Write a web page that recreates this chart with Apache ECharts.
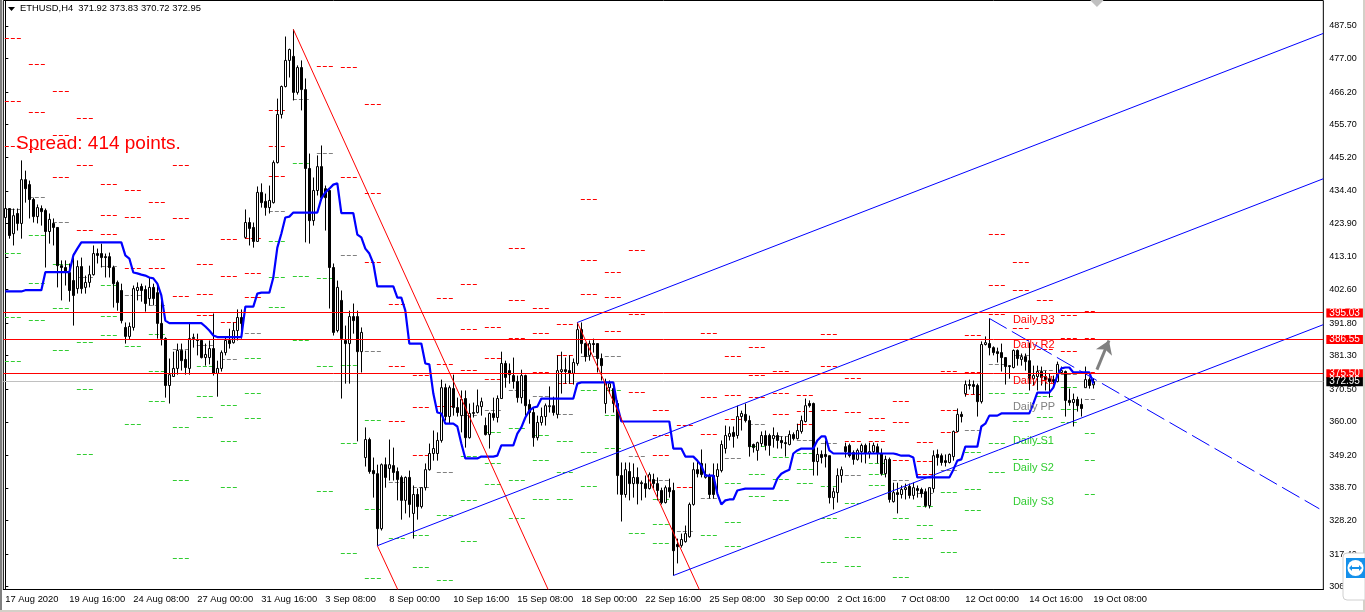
<!DOCTYPE html>
<html>
<head>
<meta charset="utf-8">
<style>html,body{margin:0;padding:0;background:#fff}#chart{width:1365px;height:612px}</style>
<script src="https://cdn.jsdelivr.net/npm/echarts@6/dist/echarts.min.js"></script>
</head>
<body>
<div id="chart"></div>
<script>
// H4 candles
var opens = [425.8,428.7,420.6,427.1,423.9,438.0,436.4,431.6,426.1,428.7,
428.1,421.3,423.9,422.6,410.3,409.7,408.1,405.5,402.9,410.0,
403.3,404.9,407.4,414.2,414.2,413.2,413.2,409.7,404.9,402.3,
390.4,387.5,390.4,402.3,403.6,402.6,399.7,403.3,401.6,391.7,
386.8,371.7,374.6,377.2,383.0,380.1,377.2,386.8,386.5,386.2,
380.7,380.7,383.6,375.6,377.2,382.3,386.2,385.5,389.4,393.6,
419.4,424.2,422.6,418.1,433.9,431.0,429.0,430.6,443.5,459.0,
468.0,476.4,477.7,466.1,474.1,467.0,441.6,424.8,434.5,442.2,
435.1,434.5,409.7,389.4,399.1,386.2,385.2,393.9,393.9,382.6,
348.5,354.3,344.3,343.3,325.6,346.2,345.0,345.9,344.0,342.1,
334.7,342.1,330.5,336.6,332.7,338.8,344.6,349.8,349.8,354.0,
371.0,361.7,370.7,364.6,362.0,367.5,354.9,362.7,363.0,364.9,
358.8,355.9,362.7,361.4,367.5,378.8,376.5,374.9,373.0,367.8,
374.9,365.6,363.0,354.9,359.8,361.7,364.9,365.2,362.4,376.2,
376.8,376.5,375.6,378.8,389.7,385.2,381.4,385.2,385.2,380.4,
365.9,371.0,370.7,365.9,342.7,336.6,344.0,340.1,342.1,340.4,
340.1,338.5,341.4,340.1,337.9,334.0,338.8,337.9,320.5,320.2,
321.4,323.0,333.4,344.6,346.6,342.1,342.7,342.7,342.4,344.3,
351.4,355.3,356.6,355.6,361.7,362.4,360.4,352.7,350.8,353.0,
355.6,355.6,354.6,355.6,354.0,353.3,352.7,355.9,354.6,356.9,
360.1,365.9,365.9,347.2,349.5,349.5,349.1,335.6,337.2,342.7,
352.0,352.4,350.1,347.9,350.4,352.4,349.8,350.4,352.0,349.8,
343.3,347.9,334.3,337.2,336.6,338.2,339.2,336.3,338.5,338.2,
337.5,333.0,338.5,349.5,349.1,347.5,346.9,348.8,356.9,362.4,
369.1,372.0,372.0,371.7,366.5,384.9,385.2,383.9,382.6,382.3,
380.7,378.1,377.5,383.0,380.1,381.0,379.7,373.9,374.6,376.2,
374.6,373.9,373.6,373.0,375.9,376.2,366.9,366.2,367.2,365.6,
371.0,373.6,371.92];
var closes = [428.7,420.0,426.4,423.9,438.0,435.1,431.6,426.1,429.0,427.7,
421.3,425.2,422.6,410.3,409.7,408.1,402.3,400.7,410.0,402.9,
404.9,407.4,414.2,413.6,412.9,412.9,409.7,404.5,398.4,392.6,
387.5,390.7,402.9,403.3,402.3,398.1,403.3,399.7,391.7,386.8,
371.7,375.2,377.2,383.0,379.7,377.5,386.8,387.2,386.2,380.7,
381.7,383.6,375.6,377.2,382.3,386.2,385.2,389.4,393.6,391.7,
424.2,422.3,418.1,433.9,430.6,429.0,431.3,443.5,459.0,468.0,
476.4,479.9,466.1,474.1,467.0,441.6,424.8,434.5,442.2,432.2,
432.2,409.7,388.8,403.3,386.8,385.2,393.9,392.6,382.6,388.8,
354.3,344.0,343.3,325.6,346.2,342.1,346.2,343.7,341.4,334.7,
342.1,333.4,336.6,332.7,338.8,344.6,349.8,351.4,354.0,371.0,
361.7,371.0,364.6,363.0,367.2,354.9,362.7,363.0,365.2,366.5,
355.9,362.7,361.4,367.5,378.8,374.3,375.2,373.0,367.8,374.9,
365.2,363.0,354.9,359.8,361.7,365.2,365.2,363.0,376.5,376.8,
376.2,375.6,379.1,389.7,385.2,381.0,385.2,384.9,380.4,378.1,
372.7,372.3,365.9,342.7,336.6,344.6,340.1,342.1,340.1,340.1,
338.5,343.0,340.1,337.9,334.0,338.8,337.5,318.5,319.8,322.1,
324.0,333.4,344.6,343.3,343.0,343.0,336.6,336.6,344.6,352.7,
355.6,356.2,355.3,361.7,362.7,360.4,352.0,351.7,353.3,355.6,
352.4,352.4,355.6,354.0,353.3,353.0,355.9,354.6,357.2,360.4,
365.2,365.2,347.2,349.5,348.5,348.8,335.6,337.5,342.7,344.6,
350.4,349.1,347.9,350.8,352.4,349.8,350.4,352.4,349.8,343.3,
347.9,335.0,337.2,336.6,338.2,338.8,336.3,338.8,337.9,336.9,
333.0,338.8,349.1,348.5,346.9,346.9,349.5,356.9,362.4,361.7,
372.0,371.7,371.4,366.5,384.9,385.5,383.9,382.3,382.0,380.7,
377.8,377.8,383.0,380.4,381.0,379.4,373.9,374.9,376.2,374.3,
373.6,373.0,373.0,378.5,376.5,366.9,366.2,367.2,365.2,364.3,
373.6,371.7,372.95];
var highs = [433.5,428.7,428.7,428.7,444.2,440.9,437.7,432.2,430.0,429.7,
428.7,427.1,425.5,422.6,412.0,412.0,411.0,414.2,412.0,412.9,
407.1,410.3,416.8,415.8,417.4,414.2,414.5,410.3,405.5,404.5,
392.0,392.0,403.9,404.9,404.5,403.9,406.5,404.5,403.9,399.1,
387.2,380.4,382.6,385.2,385.2,383.0,391.7,388.4,388.4,386.5,
385.2,386.2,394.9,379.7,383.0,387.2,390.0,392.0,396.2,396.2,
428.4,425.8,424.2,435.8,436.8,433.5,436.1,444.2,464.1,468.3,
484.1,480.2,486.4,474.8,476.4,470.6,446.4,438.7,445.8,449.0,
436.1,435.1,411.0,405.5,402.3,391.0,395.8,398.1,395.8,390.4,
358.2,354.9,348.5,346.2,346.6,348.5,354.3,351.7,345.3,342.7,
342.4,344.3,339.5,338.5,338.8,346.6,353.0,357.2,356.6,373.6,
372.3,371.7,375.2,367.8,370.1,370.1,365.9,366.2,370.4,367.8,
361.4,363.0,367.8,368.5,382.6,379.7,378.8,380.7,374.9,376.8,
375.2,367.2,364.6,362.0,364.6,365.9,371.4,368.1,381.4,382.6,
380.7,381.4,380.4,392.0,392.0,385.5,386.2,386.8,385.2,382.0,
373.9,373.3,372.7,366.9,346.9,346.9,346.9,346.6,345.3,341.1,
342.7,343.7,343.3,342.1,338.8,339.5,341.7,340.4,322.4,324.0,
326.6,334.0,346.9,347.5,351.1,346.6,343.3,346.6,346.6,354.0,
358.8,358.5,358.5,365.2,363.6,365.9,362.0,353.0,353.6,356.9,
357.2,356.2,358.2,356.6,355.3,355.3,357.2,356.6,359.4,362.0,
367.5,366.9,366.2,351.7,350.8,354.0,349.1,338.8,345.0,345.6,
353.3,353.0,350.8,351.4,353.0,353.0,353.3,353.3,353.0,351.4,
349.1,348.5,340.4,340.4,339.5,340.1,340.1,340.4,339.5,338.8,
338.5,338.8,350.8,351.1,349.8,349.5,349.8,357.2,364.3,363.3,
373.3,373.6,373.3,372.3,385.9,387.5,393.3,384.3,383.9,385.2,
380.7,378.1,383.3,383.3,382.0,382.0,385.5,378.1,378.1,377.8,
376.5,375.6,374.9,379.4,377.8,376.5,370.7,369.1,368.1,367.5,
377.8,374.3,373.83];
var lows = [422.6,419.0,416.8,421.6,419.0,430.6,425.5,424.2,423.9,423.2,
409.7,417.4,416.8,403.3,399.1,403.9,398.7,391.0,401.3,401.3,
401.3,403.3,407.1,411.0,409.7,406.5,406.5,396.8,395.8,391.7,
385.2,386.5,389.4,399.1,398.7,395.5,397.5,397.5,386.8,384.6,
367.8,365.9,374.6,375.2,376.5,375.2,375.2,383.9,381.4,380.4,
378.1,378.5,374.9,368.1,376.2,381.4,383.6,385.2,386.2,386.8,
419.0,416.8,416.1,418.1,429.0,426.4,427.1,430.3,443.2,457.7,
467.7,470.9,463.5,465.4,460.3,417.8,417.4,423.2,432.9,431.3,
421.6,396.5,387.8,388.8,367.5,372.3,372.3,388.4,353.7,375.9,
345.6,343.3,335.6,320.1,325.0,338.8,341.1,341.1,334.7,328.5,
330.5,329.2,322.4,328.5,332.1,337.9,344.3,347.5,347.5,353.3,
360.4,359.4,362.0,361.7,356.6,351.7,354.6,361.4,362.7,362.0,
355.6,351.4,360.4,359.8,367.5,371.0,372.3,370.7,366.2,365.9,
362.0,359.4,352.0,354.0,358.8,358.8,363.0,362.0,361.1,369.1,
372.3,372.3,372.0,378.1,382.0,379.4,379.7,382.3,375.9,373.3,
362.7,369.1,363.0,336.6,327.9,335.6,334.7,335.6,333.4,334.7,
335.6,338.2,338.5,334.7,333.4,333.7,335.6,310.5,314.4,319.5,
321.1,322.7,333.0,342.1,342.1,341.7,335.3,335.3,336.3,343.7,
349.8,354.0,351.7,354.6,357.2,359.8,348.8,350.1,347.5,352.0,
350.8,349.1,351.7,351.4,351.4,348.8,352.4,354.0,354.3,356.2,
359.8,364.6,342.7,342.7,346.6,345.3,333.7,331.8,334.0,340.4,
348.5,348.5,346.2,347.5,346.9,346.6,348.2,349.8,346.6,342.7,
342.1,334.0,334.0,330.5,335.3,335.0,335.3,335.0,335.6,335.6,
332.4,332.1,337.2,345.9,345.9,345.6,346.6,347.5,356.6,359.8,
368.1,370.4,368.8,361.7,365.9,384.6,381.4,381.4,379.1,376.2,
372.0,373.9,377.2,378.1,378.1,376.5,370.1,371.7,370.1,371.7,
370.1,367.8,371.0,372.7,375.5,361.7,365.2,358.5,363.3,361.7,
371.0,370.7,370.72];

// thick blue indicator line, one value per bar
var blueLine = [402.0,402.0,402.0,402.0,402.0,402.4,402.4,402.4,402.4,402.4,
408.2,408.2,408.2,408.2,408.2,408.2,408.2,413.6,415.8,417.8,
417.8,417.8,417.8,417.8,417.8,417.8,417.8,417.8,417.8,417.8,
413.6,412.6,408.1,407.8,407.4,407.1,406.5,406.2,404.5,400.7,
392.6,391.8,391.8,391.8,391.8,391.8,391.8,391.8,391.8,391.8,
390.7,389.4,387.8,387.3,387.3,387.3,387.3,387.3,387.3,387.3,
397.1,397.1,397.1,401.3,401.6,401.6,401.6,406.5,416.1,420.6,
425.8,426.1,427.4,427.4,427.4,427.4,427.4,427.4,427.4,431.9,
433.9,435.1,436.4,436.8,427.2,427.2,427.2,427.2,420.3,419.4,
415.8,414.2,411.0,403.6,403.6,403.6,403.6,403.6,400.0,400.0,
395.8,385.2,385.2,385.2,385.2,378.8,378.5,369.1,363.0,362.7,
359.4,359.4,359.4,358.5,353.0,348.2,348.2,348.2,348.2,348.8,
348.8,348.8,348.8,349.1,352.4,352.4,352.4,352.4,356.2,358.2,
361.4,363.6,364.6,364.9,367.5,367.5,367.5,367.5,367.5,367.5,
367.5,367.5,367.5,372.3,372.7,372.7,372.7,372.7,372.7,372.7,
372.7,372.7,372.7,365.2,360.1,360.1,360.1,360.1,360.1,360.1,
360.1,360.1,360.1,360.1,360.1,360.1,360.1,351.4,351.4,351.4,
348.8,348.8,348.8,347.5,345.9,342.7,342.7,342.7,336.9,333.4,
334.7,335.0,335.0,337.9,338.2,338.5,338.5,338.5,338.5,338.5,
338.5,338.5,338.5,341.7,343.3,344.0,344.6,349.8,350.8,351.4,
351.4,351.4,351.4,354.0,355.3,355.3,350.8,349.8,349.8,349.8,
349.8,349.8,349.8,349.8,349.8,349.8,349.8,349.8,349.8,349.8,
349.8,349.8,349.8,349.5,349.1,349.1,349.1,348.5,342.1,342.1,
342.1,342.1,342.1,342.1,342.1,342.1,342.1,344.6,347.5,347.9,
352.0,352.0,352.0,352.0,358.5,359.4,362.0,362.0,362.0,362.7,
362.7,362.7,362.7,362.7,362.7,362.7,362.7,365.9,369.4,369.4,
369.4,369.4,371.0,374.9,377.2,377.5,377.5,375.9,375.9,375.9,
375.9,375.9,372.3];

// daily pivot levels, one value per day, null where the level is off the chart
var dailyR3 = [483.5,475.1,466.4,457.7,436.4,434.5,430.6,442.6,410.7,418.7,419.0,460.3,null,null,null,462.2,397.8,374.9,399.7,404.2,390.4,415.8,396.5,391.3,431.6,408.1,415.2,363.6,373.0,388.4,381.0,383.9,376.2,368.5,388.1,373.9,361.1,366.5,353.3,376.2,387.8,420.3,411.3,399.1,394.2,395.5];
var dailyR2 = [463.2,459.6,452.2,442.6,426.4,425.8,418.7,425.5,401.0,406.8,407.8,448.7,null,null,474.1,433.5,377.8,364.6,378.5,389.7,380.4,399.1,388.4,381.4,412.0,400.0,394.6,355.6,358.8,367.8,368.5,374.9,369.1,363.3,377.8,363.0,357.2,359.8,347.2,363.6,375.9,403.9,402.3,391.7,386.8,386.8];
var dailyR1 = [448.7,447.7,438.7,421.6,420.3,409.4,409.4,400.4,394.2,392.0,400.0,439.0,null,474.4,438.7,411.3,360.1,349.1,364.9,376.5,373.6,386.8,375.9,372.3,401.0,389.1,369.4,349.1,338.8,355.9,360.7,367.8,362.4,359.1,363.6,353.7,353.7,347.5,343.0,356.6,368.8,394.6,390.0,383.3,382.6,375.9];
var dailyPP = [428.4,432.2,424.2,406.5,410.0,400.7,397.5,383.3,384.6,380.1,388.4,427.7,463.8,446.4,413.6,382.6,340.4,338.8,343.7,362.0,363.6,370.1,368.1,362.4,381.0,381.0,348.8,341.1,324.7,335.3,348.2,359.1,355.3,354.0,353.0,342.7,349.8,341.1,336.9,344.3,357.2,378.5,381.4,376.5,375.2,367.2];
var dailyS1 = [414.2,420.0,410.7,385.5,403.9,384.3,388.1,358.2,377.8,365.2,380.4,418.1,443.2,406.2,378.1,360.4,322.4,323.4,329.8,348.8,356.6,357.8,355.6,353.7,370.1,370.1,324.0,335.0,null,323.4,340.1,352.0,348.5,349.8,339.2,333.7,346.6,328.9,332.7,337.2,350.1,369.1,369.1,368.1,371.0,356.2];
var dailyS2 = [393.6,404.5,396.5,370.4,393.9,375.6,376.2,341.1,368.1,353.7,369.1,406.5,406.8,377.8,353.0,331.8,null,313.1,308.9,334.7,346.6,341.1,347.5,343.7,350.1,362.0,null,326.9,null,null,327.6,343.0,341.4,344.6,328.9,322.7,343.0,322.1,326.6,325.0,338.2,353.0,360.1,361.4,364.0,347.5];
var dailyS3 = [379.4,392.6,383.0,349.5,387.8,359.1,366.5,316.0,361.4,338.8,361.1,396.8,386.2,337.6,317.6,309.5,null,null,null,321.4,339.8,328.9,335.0,335.0,339.2,351.4,null,320.8,null,null,319.8,335.9,334.7,340.1,314.7,313.4,339.5,309.9,322.4,317.9,331.4,343.7,347.9,353.0,359.8,336.6];

// axis labels
var timeLabels = ['17 Aug 2020','19 Aug 16:00','24 Aug 08:00','27 Aug 00:00','31 Aug 16:00','3 Sep 08:00','8 Sep 00:00','10 Sep 16:00','15 Sep 08:00','18 Sep 00:00','22 Sep 16:00','25 Sep 08:00','30 Sep 00:00','2 Oct 16:00','7 Oct 08:00','12 Oct 00:00','14 Oct 16:00','19 Oct 08:00'];
var priceTicks = [487.5,477,466.2,455.7,445.2,434.4,423.9,413.1,402.6,391.8,381.3,370.5,360,349.2,338.7,328.2,317.4,306.9];

// drawn objects: [bar, price] end points
var redChannel = [[[72,486.4],[135.7,306]],[[93,320.1],[98.1,306]],[[143,392],[173.5,306]]];
var blueChannel = [[[143,392],[329.5,485.1]],[[93,320.1],[329.5,438.3]],[[167,310.5],[329.5,391.3]]];
var dashedLine = [[246,393.3],[328.5,332]];
var arrowLine = [[272.9,376.8],[275.9,386.2]];
var dailyNames = ['Daily R3','Daily R2','Daily R1','Daily PP','Daily S1','Daily S2','Daily S3'];
var dailyNamePrices = [392.9,384.6,373.3,364.9,353.7,345.3,334.3];
var dailyNameColors = ['#ff0000','#ff0000','#ff0000','#808080','#32cd32','#32cd32','#32cd32'];
var hLines = [395.03,386.55,375.5];
var lastPrice = 372.95;

var barsPerDay = 6;
var totalBars = 330;
var cats = [];
for (var i = 0; i < totalBars; i++) cats.push(String(i));

var candles = [];
for (var j = 0; j < opens.length; j++) {
    candles.push([opens[j], closes[j], lows[j], highs[j]]);
}

// terminal lines sit on whole pixels
function crispY(y) {
    return Math.round(y - 0.6) + 0.5;
}

// one short dashed mark at the start of each day
function levelSeries(levels, color) {
    var pts = [];
    levels.forEach(function (v, day) {
        if (v !== null) pts.push([day * barsPerDay, v]);
    });
    return {
        type: 'custom',
        data: pts,
        silent: true,
        z: 2,
        renderItem: function (params, api) {
            var p = api.coord([api.value(0), api.value(1)]);
            var y = crispY(p[1]);
            var len = api.value(0) >= 270 ? 10 : 16;
            return {
                type: 'line',
                shape: { x1: p[0] - 0.5, y1: y, x2: p[0] - 0.5 + len, y2: y },
                style: { stroke: color, lineWidth: 1, lineDash: [4, 2], fill: null }
            };
        }
    };
}

// full width horizontal level
function hLineSeries(values, color, z) {
    return {
        type: 'custom',
        xAxisIndex: 1,
        data: values.map(function (v) { return [-0.5, v]; }),
        silent: true,
        z: z,
        clip: true,
        renderItem: function (params, api) {
            var a = api.coord([-0.5, api.value(1)]);
            var b = api.coord([329.5, api.value(1)]);
            var y = crispY(a[1]);
            return {
                type: 'line',
                shape: { x1: a[0], y1: y, x2: b[0], y2: y },
                style: { stroke: color, lineWidth: 1, fill: null }
            };
        }
    };
}

function trendSeries(points, color, dash) {
    return {
        type: 'line',
        xAxisIndex: 1,
        data: points,
        showSymbol: false,
        silent: true,
        clip: true,
        z: 5,
        lineStyle: { color: color, width: 1, type: dash || 'solid' }
    };
}

// price tag on the right edge, the label hangs off an invisible point
function tagPoint(v, bg) {
    return {
        value: [329.5, v],
        label: {
            show: true, position: 'right', distance: 3, color: '#fff', backgroundColor: bg,
            padding: [0, 3], lineHeight: 9, fontFamily: 'Liberation Sans', fontSize: 10,
            formatter: v.toFixed(2)
        }
    };
}

var seriesList = [
    levelSeries(dailyR3, '#ff0000'),
    levelSeries(dailyR2, '#ff0000'),
    levelSeries(dailyR1, '#ff0000'),
    levelSeries(dailyPP, '#808080'),
    levelSeries(dailyS1, '#32cd32'),
    levelSeries(dailyS2, '#32cd32'),
    levelSeries(dailyS3, '#32cd32'),
    hLineSeries([lastPrice], '#c0c0c0', 2),
    {
        type: 'candlestick',
        data: candles,
        barWidth: 3,
        silent: true,
        z: 3,
        itemStyle: { color: '#fff', color0: '#000', borderColor: '#000', borderColor0: '#000', borderWidth: 1 }
    },
    {
        type: 'line',
        data: blueLine,
        showSymbol: false,
        silent: true,
        z: 4,
        lineStyle: { color: '#0000ff', width: 2.2 }
    },
    {
        type: 'scatter',
        xAxisIndex: 1,
        symbolSize: 0,
        silent: true,
        z: 4,
        itemStyle: { opacity: 1 },
        data: dailyNames.map(function (n, k) {
            return {
                value: [251.9, dailyNamePrices[k]],
                label: { show: true, position: 'right', distance: 0, formatter: n, color: dailyNameColors[k], fontFamily: 'Liberation Sans', fontSize: 11 }
            };
        })
    },
    hLineSeries(hLines, '#ff0000', 6)
];
redChannel.forEach(function (p) { seriesList.push(trendSeries(p, '#ff0000')); });
blueChannel.forEach(function (p) { seriesList.push(trendSeries(p, '#0000ff')); });
seriesList.push(trendSeries(dashedLine, '#0000ff', [20, 6]));

seriesList.push({
    type: 'scatter',
    xAxisIndex: 1,
    symbolSize: 0,
    silent: true,
    clip: false,
    z: 7,
    itemStyle: { opacity: 1 },
    data: [tagPoint(hLines[0], '#ff0000'), tagPoint(hLines[1], '#ff0000'), tagPoint(hLines[2], '#ff0000'), tagPoint(lastPrice, '#000')]
});

// grey arrow and the small marker on the top edge
seriesList.push({
    type: 'line',
    xAxisIndex: 1,
    data: [],
    silent: true,
    z: 6,
    markLine: {
        silent: true,
        animation: false,
        symbolSize: 13,
        label: { show: false },
        data: [[
            { coord: arrowLine[0], symbol: 'none', lineStyle: { color: '#808080', width: 3, type: 'solid' } },
            { coord: arrowLine[1], symbol: 'arrow', lineStyle: { color: '#808080', width: 3, type: 'solid' } }
        ]]
    }
});
seriesList.push({
    type: 'scatter',
    xAxisIndex: 1,
    silent: true,
    symbol: 'diamond',
    symbolSize: 13,
    itemStyle: { color: '#c0c0c0', opacity: 1 },
    data: [[272.9, 495.7]]
});

var chart = echarts.init(document.getElementById('chart'));
chart.setOption({
    animation: false,
    backgroundColor: '#fff',
    textStyle: { fontFamily: 'Liberation Sans' },
    grid: { left: 3.33, top: 0.5, width: 1320, height: 589, show: true, borderColor: '#000', borderWidth: 1, containLabel: false },
    xAxis: [
        {
            type: 'category',
            data: cats,
            boundaryGap: true,
            axisLine: { lineStyle: { color: '#000', width: 1 } },
            axisTick: {
                alignWithLabel: true,
                length: 3,
                lineStyle: { color: '#000' },
                interval: function (idx) { return idx % 16 === 0 && idx <= 272; }
            },
            axisLabel: {
                color: '#000',
                fontSize: 9.4,
                align: 'left',
                margin: 5,
                interval: function (idx) { return idx % 16 === 0 && idx <= 272; },
                formatter: function (v, idx) { return timeLabels[idx / 16]; }
            },
            splitLine: { show: false }
        },
        { type: 'value', min: -0.5, max: 329.5, show: false, splitLine: { show: false } }
    ],
    yAxis: {
        type: 'value',
        position: 'right',
        min: 306,
        max: 495.7,
        splitLine: { show: false },
        axisLine: { show: true, lineStyle: { color: '#000', width: 1 } },
        axisTick: { show: true, length: 3, lineStyle: { color: '#000' }, customValues: priceTicks },
        axisLabel: {
            color: '#000',
            fontSize: 9,
            margin: 6,
            customValues: priceTicks,
            formatter: function (v) { return v.toFixed(2); }
        }
    },
    series: seriesList,
    graphic: [
        { type: 'rect', shape: { x: 0, y: 0, width: 2, height: 612 }, style: { fill: '#808080' } },
        { type: 'rect', shape: { x: 0, y: 610, width: 1365, height: 2 }, style: { fill: '#d4d0c8' } },
        { type: 'rect', shape: { x: 1363, y: 0, width: 2, height: 612 }, style: { fill: '#d4d0c8' } },
        { type: 'polygon', shape: { points: [[8, 7], [15, 7], [11.5, 11]] }, style: { fill: '#000' } },
        { type: 'text', x: 20, y: 4, style: { text: 'ETHUSD,H4  371.92 373.83 370.72 372.95', fill: '#000', font: '9.4px "Liberation Sans"' } },
        { type: 'text', x: 16, y: 134, style: { text: 'Spread: 414 points.', fill: '#ff0000', font: '19px "Liberation Sans"' } },
        // remote-desktop badge in the corner
        { type: 'rect', z: 50, shape: { x: 1343, y: 553, width: 22, height: 47, r: [4, 0, 0, 4] }, style: { fill: '#fff', stroke: '#d0d0d0' } },
        { type: 'rect', z: 51, shape: { x: 1346, y: 558, width: 19, height: 20 }, style: { fill: '#1590ea' } },
        { type: 'circle', z: 52, shape: { cx: 1355.5, cy: 568, r: 8 }, style: { fill: '#fff' } },
        { type: 'line', z: 53, shape: { x1: 1351, y1: 568, x2: 1360, y2: 568 }, style: { stroke: '#1590ea', lineWidth: 2 } },
        { type: 'polygon', z: 53, shape: { points: [[1349, 568], [1352, 565], [1352, 571]] }, style: { fill: '#1590ea' } },
        { type: 'polygon', z: 53, shape: { points: [[1362, 568], [1359, 565], [1359, 571]] }, style: { fill: '#1590ea' } }
    ]
});
</script>
</body>
</html>
